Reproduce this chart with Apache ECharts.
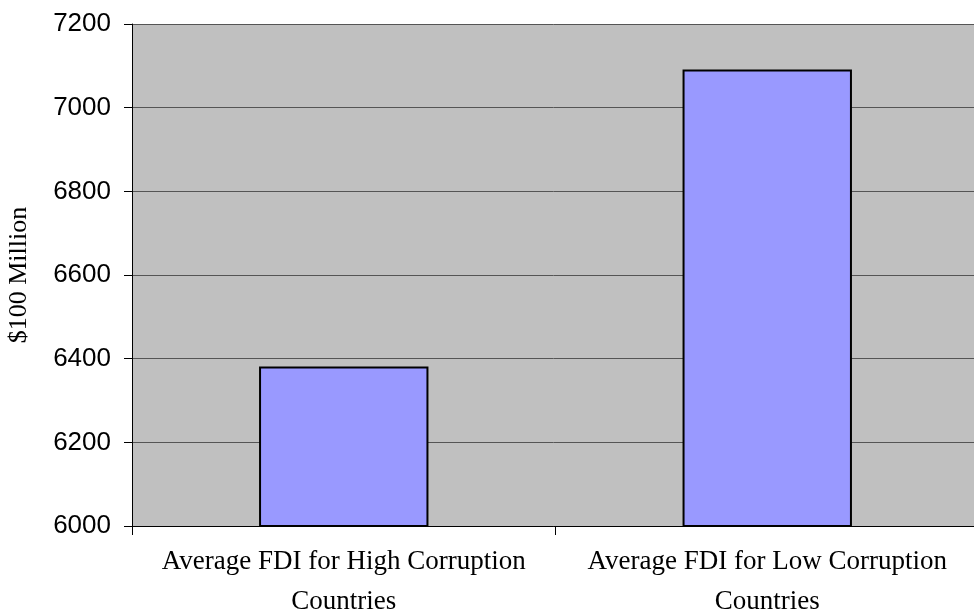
<!DOCTYPE html>
<html>
<head>
<meta charset="utf-8">
<script src="https://cdn.jsdelivr.net/npm/echarts@6/dist/echarts.min.js"></script>
<style>
  html, body { margin: 0; padding: 0; background: #ffffff; }
  #chart { width: 974px; height: 616px; }
</style>
</head>
<body>
<div id="chart"></div>
<script>
// Average FDI by corruption level
const categories = [
  'Average FDI for High Corruption\nCountries',
  'Average FDI for Low Corruption\nCountries'
];
const fdiValues = [6381, 7091];
const yMin = 6000;
const yMax = 7200;
const yStep = 200;
const yAxisTitle = '$100 Million';

const chart = echarts.init(document.getElementById('chart'), null, { renderer: 'canvas' });

chart.setOption({
  animation: false,
  backgroundColor: '#ffffff',
  grid: {
    // the plot runs a few pixels past the right edge of the canvas
    left: 132, right: -5, top: 24, bottom: 90,
    containLabel: false,
    outerBoundsMode: 'none',
    show: true, backgroundColor: '#c0c0c0', borderWidth: 0
  },
  xAxis: {
    type: 'category',
    data: categories,
    axisLine: { show: true, lineStyle: { color: '#000000', width: 1 } },
    axisTick: { show: true, length: 9, lineStyle: { color: '#000000' } },
    axisLabel: {
      interval: 0,
      hideOverlap: false,
      fontFamily: 'Liberation Serif',
      fontSize: 27,
      color: '#000000',
      lineHeight: 40,
      margin: 16
    }
  },
  yAxis: {
    type: 'value',
    min: yMin,
    max: yMax,
    interval: yStep,
    name: yAxisTitle,
    nameLocation: 'middle',
    nameGap: 100,
    nameTextStyle: { fontFamily: 'Liberation Serif', fontSize: 26, color: '#000000' },
    axisLine: { show: true, lineStyle: { color: '#000000', width: 1 } },
    axisTick: { show: true, length: 8, lineStyle: { color: '#000000' } },
    axisLabel: {
      fontFamily: 'Liberation Sans',
      fontSize: 26,
      color: '#000000',
      margin: 21,
      formatter: function (v) { return String(v); }
    },
    splitLine: { show: true, lineStyle: { color: '#555555', width: 1 } }
  },
  series: [{
    type: 'bar',
    data: fdiValues,
    barWidth: '40%',
    itemStyle: { color: '#9999ff', borderColor: '#000000', borderWidth: 2 }
  }]
});
</script>
</body>
</html>
